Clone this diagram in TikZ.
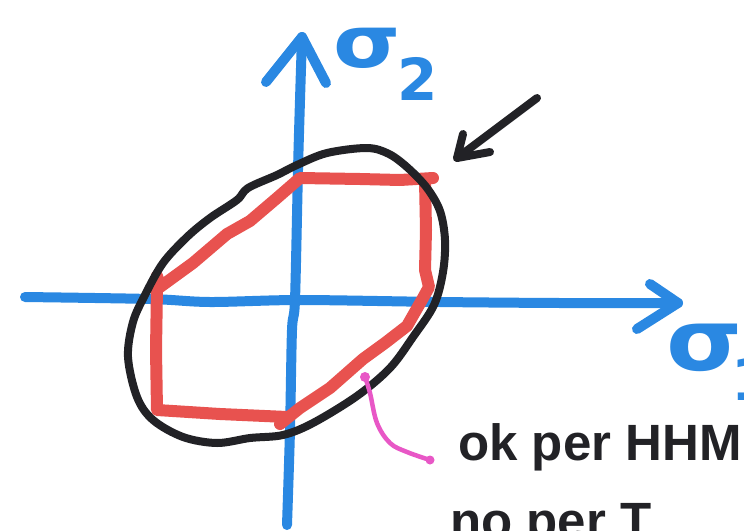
\documentclass[tikz,border=0pt]{standalone}
\usepackage{fontspec}
\setmainfont{Liberation Sans}
\newfontfamily\sigfont{DejaVu Sans}
\definecolor{axisblue}{HTML}{2A88E2}
\definecolor{inkred}{HTML}{E8524F}
\definecolor{inkblack}{HTML}{222226}
\definecolor{inkpink}{HTML}{E857C6}
\tikzset{
  axisline/.style={draw=axisblue, line width=10pt, line cap=round, line join=round},
  redline/.style={draw=inkred, line width=12pt, line cap=round, line join=round},
  blackline/.style={draw=inkblack, line width=8pt, line cap=round, line join=round},
  pinkline/.style={draw=inkpink, line width=4.5pt, line cap=round, line join=round},
  siglabel/.style={text=axisblue, inner sep=0pt, anchor=base west},
  handtext/.style={text=inkblack, inner sep=0pt, anchor=base west, font=\bfseries\fontsize{51}{60}\selectfont}
}
\begin{document}
\begin{tikzpicture}[x=1pt,y=-1pt]
\useasboundingbox (0,0) rectangle (744,530);
\clip (0,0) rectangle (744,530);
\fill[white] (0,0) rectangle (744,530);

% coordinates
\coordinate (xtip) at (678,303);
\coordinate (ytip) at (302,37);

% horizontal axis
\draw[axisline] plot[smooth, tension=0.5] coordinates {(25,297) (150,299) (210,302) (300,300) (440,302) (560,303) (xtip)};
\draw[axisline] (650,284) -- (xtip) -- (637,329);
% vertical axis
\draw[axisline] plot[smooth, tension=0.5] coordinates {(287,525) (290,430) (292,330) (295,300) (298,170) (300,100) (ytip)};
\draw[axisline] (266,82) -- (ytip) -- (326,83);

% red hexagon
\draw[redline] (157,276) -- (160,287) -- (193,263) -- (227,234) -- (250,221) -- (277,198) -- (300,178)
  -- (360,179) -- (400,180) -- (433,178);
\draw[redline] (425,180) -- (426,230) -- (425,270) -- (429,287) -- (423,298)
  -- (407,326) -- (385,343) -- (363,359) -- (330,388) -- (300,408) -- (280,424);
\draw[redline] (287,417) -- (220,414) -- (157,410) -- (156,350) -- (157,287);

% black ellipse
\draw[blackline] plot[smooth cycle, tension=0.55] coordinates {
  (327,153) (367,148) (389,154) (408,168) (427,188) (440,211) (445,240) (443,272)
  (434,305) (413,337) (390,368) (357,396) (313,423) (283,435) (250,438) (217,443)
  (183,437) (153,420) (137,397) (128,357) (133,322) (145,295) (163,263) (187,237)
  (210,218) (237,200) (248,188) (277,175) (297,165)};

% black arrow
\coordinate (atip) at (457,158);
\draw[blackline] (537,98) -- (atip);
\draw[blackline] (463,134) -- (atip) -- (490,152);

% pink pointer
\coordinate (pstart) at (365,377);
\coordinate (pend) at (430,460);
\draw[pinkline] plot[smooth, tension=0.6] coordinates {(pstart) (370,393) (377,423) (390,443) (407,452) (pend)};
\fill[inkpink] (pstart) circle (5pt);
\fill[inkpink] (pend) circle (4.5pt);

% labels
\node[siglabel, font=\sigfont\bfseries\fontsize{72}{80}\selectfont, xscale=1.2] (sig2) at (333,67) {σ};
\node[siglabel, font=\sigfont\bfseries\fontsize{58}{64}\selectfont] (sub2) at (397,100) {2};
\node[siglabel, font=\sigfont\bfseries\fontsize{85}{90}\selectfont, xscale=1.15] (sig1) at (666,370) {σ};
\node[siglabel, font=\sigfont\bfseries\fontsize{58}{64}\selectfont] (sub1) at (731,400) {1};

\node[handtext] (line1) at (458,460) {ok per HHM};
\node[handtext] (line2) at (450,538) {no per T};
\end{tikzpicture}
\end{document}
